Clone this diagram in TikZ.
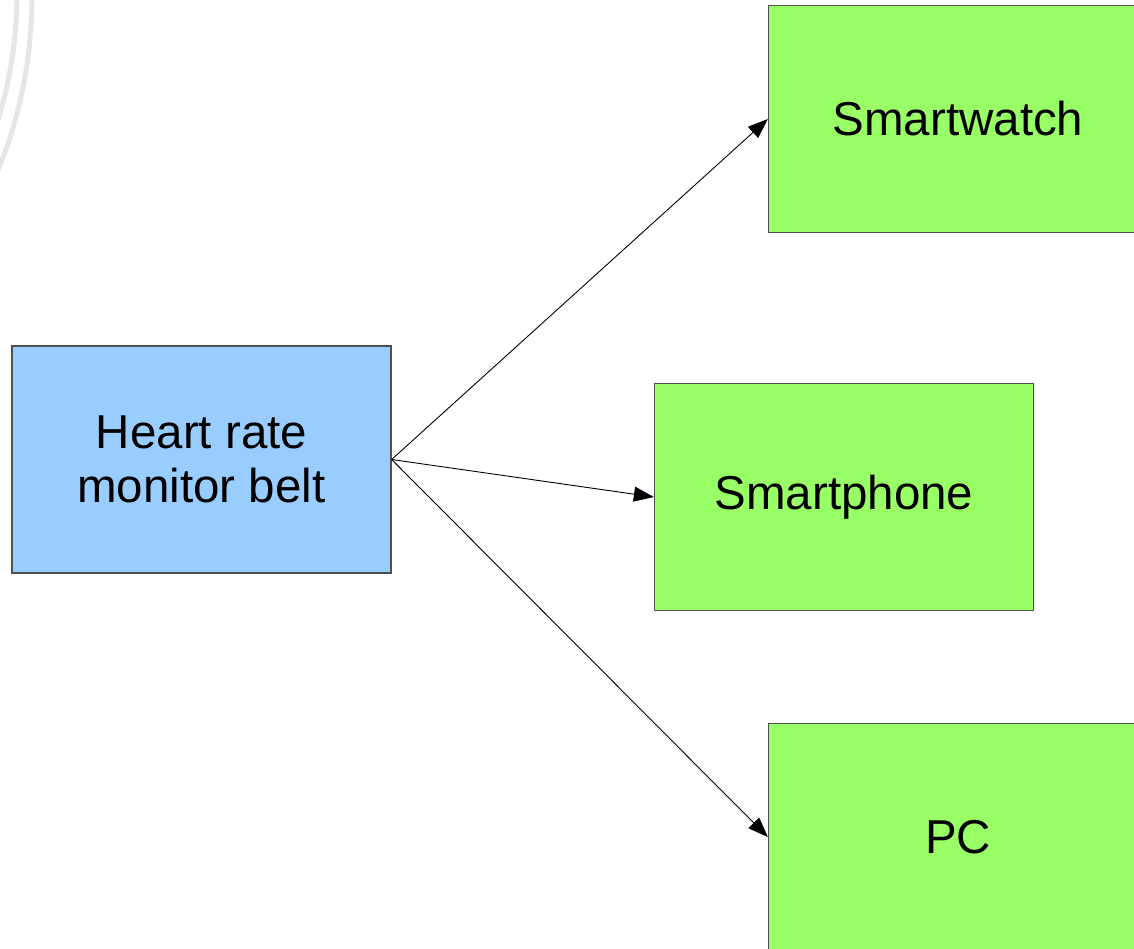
\documentclass[tikz,border=0pt]{standalone}
\usepackage{fontspec}
\setmainfont{Liberation Sans}
\usetikzlibrary{arrows.meta}
\definecolor{beltblue}{RGB}{153,204,255}
\definecolor{devgreen}{RGB}{153,255,102}
\definecolor{edgegray}{RGB}{80,80,80}
\definecolor{arcgray}{RGB}{230,230,230}
\tikzset{
  x=1pt, y=-1pt,
  box/.style={draw=edgegray, line width=1.3pt, minimum width=379pt, minimum height=227pt,
    inner sep=0pt, align=center, font=\fontsize{47.5}{54}\selectfont},
  source/.style={box, fill=beltblue},
  device/.style={box, fill=devgreen},
  link/.style={line width=0.9pt, -{Triangle[length=20pt,width=15pt]}}
}
\begin{document}
\begin{tikzpicture}
\useasboundingbox (0,0) rectangle (1134,948);
\begin{scope}
  \clip (0,0) rectangle (1134,948);
  % faint decorative arcs in the corner
  \draw[arcgray, line width=5pt] (17,-5) .. controls (17,40) and (9,85) .. (-2,120);
  \draw[arcgray, line width=5pt] (32,-5) .. controls (32,60) and (19,120) .. (-2,170);

  \node[source] (belt) at (201.5,459.5) {Heart rate\\monitor belt};
  \node[device] (watch) at (958,119) {Smartwatch};
  \node[device] (phone) at (844,497) {Smartphone};
  \node[device] (pc) at (958,837) {PC};

  \draw[link] (belt.east) -- (watch.west);
  \draw[link] (belt.east) -- (phone.west);
  \draw[link] (belt.east) -- (pc.west);
\end{scope}
\end{tikzpicture}
\end{document}
